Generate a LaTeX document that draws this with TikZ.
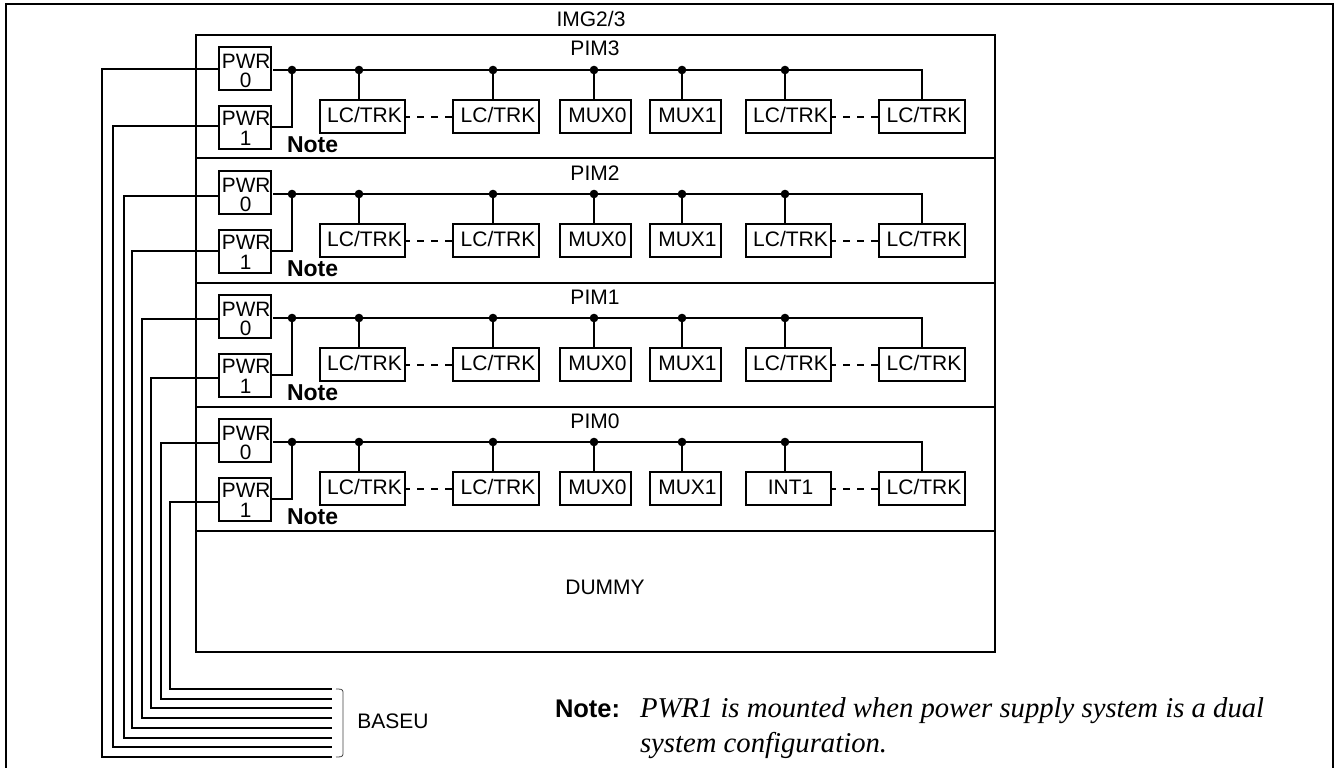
\documentclass[tikz,border=0pt]{standalone}
\usepackage{fontspec}
\setmainfont{Liberation Sans}
\newfontfamily\notefont{Liberation Serif}
\tikzset{
  every picture/.style={x=1pt,y=-1pt,line width=2pt,line cap=butt},
  lab/.style={inner sep=0pt,font=\fontsize{21}{20}\selectfont},
  unitbox/.style={draw=black,line width=2pt,inner sep=0pt,minimum height=33pt,font=\fontsize{21}{20}\selectfont,text height=15pt,text depth=3pt},
  pwrbox/.style={draw=black,line width=2pt,inner sep=0pt,minimum width=52pt,minimum height=43pt,align=center,font=\fontsize{20.8}{19.5}\selectfont},
  busdot/.style={circle,fill=black,draw=none,inner sep=0pt,minimum size=8.6pt},
  wire/.style={draw=black,line width=2pt},
  gapdash/.style={draw=black,line width=2pt,dash pattern=on 7pt off 7pt,dash phase=3pt},
  notelab/.style={inner sep=0pt,anchor=base west,font=\fontsize{23}{23}\bfseries\selectfont},
}
\newcommand{\ut}[1]{\hspace*{4pt}#1}
\begin{document}
\begin{tikzpicture}
\useasboundingbox (0,0) rectangle (1334,768);
\draw[line width=2pt] (6,768) -- (6,4) -- (1333,4) -- (1333,768);
\node[lab,anchor=base] (img) at (591,27) {IMG2/3};
\node[draw=black,line width=2pt,inner sep=0pt,minimum width=799pt,minimum height=617pt] (chassis) at (595.5,343.5) {};
\foreach \y in {158,283,407,531} \draw[line width=2pt] (196,\y) -- (995,\y);
\node[lab] (dummy) at (605,587) {DUMMY};
\coordinate (be1) at (332,757);
\coordinate (be2) at (332,747);
\coordinate (be3) at (332,738);
\coordinate (be4) at (332,728);
\coordinate (be5) at (332,718);
\coordinate (be6) at (332,708);
\coordinate (be7) at (332,699);
\coordinate (be8) at (332,689);
\foreach \r/\o/\pim/\five in {
  3/0/PIM3/LC\slash TRK,
  2/124/PIM2/LC\slash TRK,
  1/248/PIM1/LC\slash TRK,
  0/372/PIM0/INT1}{
  \begin{scope}[shift={(0,\o)}]
    \node[lab,anchor=base] (pim\r) at (595,56) {\pim};
    \node[pwrbox] (pa\r) at (245,68.5) {\rule{0pt}{20pt}\hspace*{2.5pt}PWR\\[-0.5pt]\hspace*{1.5pt}0};
    \node[pwrbox] (pb\r) at (245,127.5) {\rule{0pt}{16.5pt}\hspace*{2.5pt}PWR\\[0.5pt]\hspace*{1.5pt}1};
    \node[notelab] (nt\r) at (286,152) {Note};
    \node[unitbox,minimum width=85pt] (u\r a) at (362.5,116.5) {\ut{LC/TRK}};
    \node[unitbox,minimum width=86pt] (u\r b) at (496,116.5) {\ut{LC/TRK}};
    \node[unitbox,minimum width=71pt] (u\r c) at (595.5,116.5) {\ut{MUX0}};
    \node[unitbox,minimum width=71pt] (u\r d) at (685.5,116.5) {\ut{MUX1}};
    \node[unitbox,minimum width=85pt] (u\r e) at (788.5,116.5) {\ut{\five}};
    \node[unitbox,minimum width=86pt] (u\r f) at (922,116.5) {\ut{LC/TRK}};
    \node[busdot] (d\r z) at (292,70) {};
    \node[busdot] (d\r a) at (359,70) {};
    \node[busdot] (d\r b) at (493,70) {};
    \node[busdot] (d\r c) at (594,70) {};
    \node[busdot] (d\r d) at (682,70) {};
    \node[busdot] (d\r e) at (785,70) {};
    \coordinate (s\r) at (273,70);
    \coordinate (t\r) at (272,127);
    \draw[wire] (s\r) -- (d\r z.center) -- (d\r a.center) -- (d\r b.center) -- (d\r c.center) -- (d\r d.center) -- (d\r e.center) -| (u\r f.north);
    \draw[wire] (t\r) -| (d\r z.center);
    \draw[wire] (d\r a.center) -- (d\r a.center |- u\r a.north);
    \draw[wire] (d\r b.center) -- (d\r b.center |- u\r b.north);
    \draw[wire] (d\r c.center) -- (d\r c.center |- u\r c.north);
    \draw[wire] (d\r d.center) -- (d\r d.center |- u\r d.north);
    \draw[wire] (d\r e.center) -- (d\r e.center |- u\r e.north);
    \draw[gapdash] (u\r a.east) -- (u\r b.west);
    \draw[gapdash] (u\r e.east) -- (u\r f.west);
  \end{scope}
}
\draw[wire] (pa3.west |- 0,69) -| (102,0 |- be1) -- (be1);
\draw[wire] (pb3.west |- 0,126) -| (113,0 |- be2) -- (be2);
\draw[wire] (pa2.west |- 0,196) -| (124,0 |- be3) -- (be3);
\draw[wire] (pb2.west |- 0,251) -| (132,0 |- be4) -- (be4);
\draw[wire] (pa1.west |- 0,319) -| (142,0 |- be5) -- (be5);
\draw[wire] (pb1.west |- 0,378) -| (151,0 |- be6) -- (be6);
\draw[wire] (pa0.west |- 0,443) -| (161,0 |- be7) -- (be7);
\draw[wire] (pb0.west |- 0,502) -| (170,0 |- be8) -- (be8);
\draw[line width=0.8pt,draw=black!75] (336,689) .. controls (340,689) and (343,689) .. (343,692) -- (343,754) .. controls (343,757) and (340,757) .. (336,757);
\node[lab] (baseu) at (393,721.5) {BASEU};
\node[inner sep=0pt,anchor=base west,font=\fontsize{25.5}{25}\bfseries\selectfont] (notekey) at (554,717) {Note:};
\node[inner sep=0pt,anchor=base west,align=left,font=\fontsize{28.7}{35}\notefont\itshape\selectfont] (notetext) at (639,752) {PWR1 is mounted when power supply system is a dual\\system configuration.};
\end{tikzpicture}
\end{document}
